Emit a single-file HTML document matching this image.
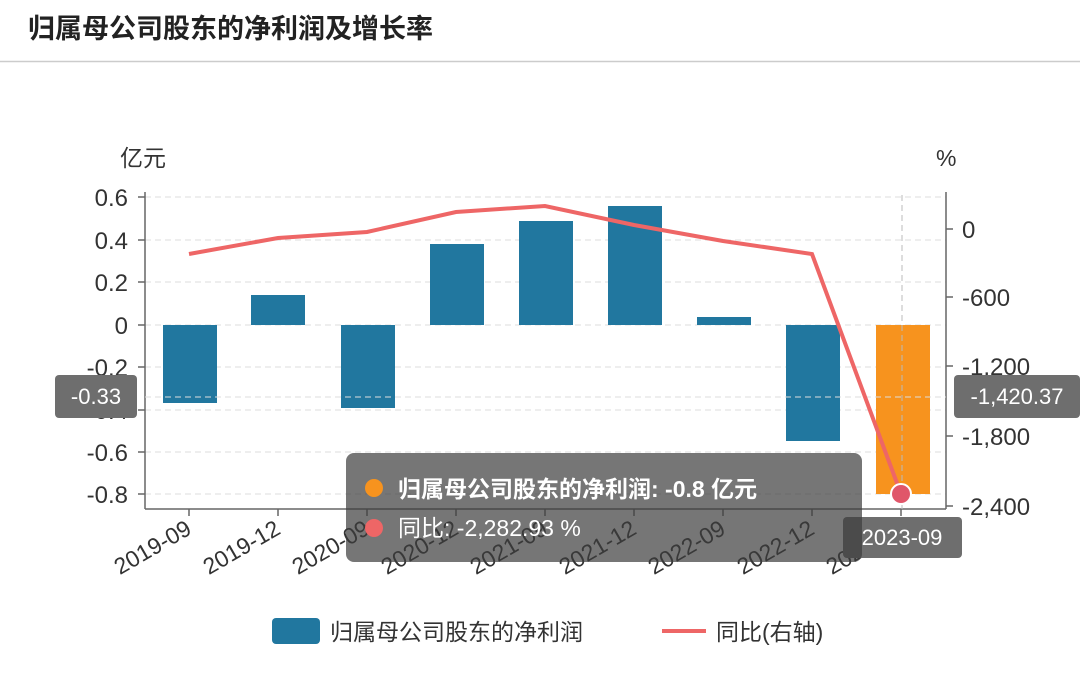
<!DOCTYPE html>
<html><head><meta charset="utf-8"><style>
body{margin:0;background:#fff;width:1080px;height:681px;overflow:hidden;font-family:"Liberation Sans","Noto Sans CJK SC",sans-serif;}
</style></head><body>
<svg width="1080" height="681" xmlns="http://www.w3.org/2000/svg" font-family="Liberation Sans, Noto Sans CJK SC, sans-serif">
<text x="28" y="38" font-size="27" font-weight="bold" fill="#222">归属母公司股东的净利润及增长率</text>
<line x1="0" y1="61.5" x2="1080" y2="61.5" stroke="#ccc" stroke-width="1.5"/>
<text x="120" y="166" font-size="23" fill="#333">亿元</text>
<text x="936" y="166" font-size="23" fill="#333">%</text>
<g stroke="#ddd" stroke-dasharray="6,4">
<line x1="145" x2="946" y1="197" y2="197"/><line x1="145" x2="946" y1="240" y2="240"/>
<line x1="145" x2="946" y1="282" y2="282"/><line x1="145" x2="946" y1="367" y2="367"/>
<line x1="145" x2="946" y1="410" y2="410"/><line x1="145" x2="946" y1="452" y2="452"/>
<line x1="145" x2="946" y1="494" y2="494"/><line x1="145" x2="946" y1="325" y2="325"/>
</g>
<g stroke="#666" stroke-width="1.5">
<line x1="145" y1="192" x2="145" y2="509"/><line x1="946" y1="192" x2="946" y2="509"/>
<line x1="145" y1="509" x2="946" y2="509"/>
<line x1="138" x2="145" y1="197" y2="197"/><line x1="138" x2="145" y1="240" y2="240"/><line x1="138" x2="145" y1="282" y2="282"/><line x1="138" x2="145" y1="325" y2="325"/><line x1="138" x2="145" y1="367" y2="367"/><line x1="138" x2="145" y1="410" y2="410"/><line x1="138" x2="145" y1="452" y2="452"/><line x1="138" x2="145" y1="494" y2="494"/>
<line x1="946" x2="953" y1="229" y2="229"/><line x1="946" x2="953" y1="297" y2="297"/><line x1="946" x2="953" y1="366" y2="366"/><line x1="946" x2="953" y1="436" y2="436"/><line x1="946" x2="953" y1="506" y2="506"/>
<line x1="189" x2="189" y1="509" y2="516"/><line x1="278" x2="278" y1="509" y2="516"/><line x1="367" x2="367" y1="509" y2="516"/><line x1="456" x2="456" y1="509" y2="516"/><line x1="545" x2="545" y1="509" y2="516"/><line x1="634" x2="634" y1="509" y2="516"/><line x1="723" x2="723" y1="509" y2="516"/><line x1="812" x2="812" y1="509" y2="516"/><line x1="901" x2="901" y1="509" y2="516"/>
</g>
<g font-size="24" fill="#333" text-anchor="end">
<text x="128" y="206">0.6</text><text x="128" y="249">0.4</text><text x="128" y="291">0.2</text><text x="128" y="334">0</text><text x="128" y="376">-0.2</text><text x="128" y="419">-0.4</text><text x="128" y="461">-0.6</text><text x="128" y="503">-0.8</text>
</g>
<g font-size="24" fill="#333">
<text x="962" y="238">0</text><text x="962" y="306">-600</text><text x="962" y="375">-1,200</text><text x="962" y="445">-1,800</text><text x="962" y="515">-2,400</text>
</g>
<g fill="#21779f">
<rect x="163" y="325" width="54" height="78"/><rect x="251" y="295" width="54" height="30"/><rect x="341" y="325" width="54" height="83"/>
<rect x="430" y="244" width="54" height="81"/><rect x="519" y="221" width="54" height="104"/><rect x="608" y="206" width="54" height="119"/>
<rect x="697" y="317" width="54" height="8"/><rect x="786" y="325" width="54" height="116"/>
</g>
<rect x="876" y="325" width="54" height="169" fill="#f7931e"/>
<line x1="902" y1="195" x2="902" y2="509" stroke="#bbb" stroke-dasharray="6,4"/>
<line x1="145" y1="397" x2="946" y2="397" stroke="#ddd" stroke-dasharray="6,4"/>
<polyline fill="none" stroke="#ee6666" stroke-width="4" points="189,254 278,238 367,232 456,212 545,206 634,225 723,241 812,254 901,494"/>
<circle cx="901" cy="494" r="10" fill="#e0566a" stroke="#fff" stroke-width="2"/>
<g font-size="23" fill="#333" text-anchor="end">
<text transform="translate(193,533) rotate(-30)">2019-09</text><text transform="translate(282,533) rotate(-30)">2019-12</text><text transform="translate(371,533) rotate(-30)">2020-09</text><text transform="translate(460,533) rotate(-30)">2020-12</text><text transform="translate(549,533) rotate(-30)">2021-09</text><text transform="translate(638,533) rotate(-30)">2021-12</text><text transform="translate(727,533) rotate(-30)">2022-09</text><text transform="translate(816,533) rotate(-30)">2022-12</text><text transform="translate(905,533) rotate(-30)">2023-09</text>
</g>
<rect x="55" y="375" width="82" height="43" rx="4" fill="#6e6e6e"/><text x="96" y="404" font-size="22" fill="#fff" text-anchor="middle">-0.33</text>
<rect x="954" y="375" width="126" height="43" rx="4" fill="#6e6e6e"/><text x="1017" y="404" font-size="22" fill="#fff" text-anchor="middle">-1,420.37</text>
<rect x="843" y="517" width="119" height="41" rx="4" fill="#6e6e6e"/><text x="902" y="545" font-size="22" fill="#fff" text-anchor="middle">2023-09</text>
<rect x="346" y="453" width="516" height="109" rx="8" fill="rgba(60,60,60,0.7)"/>
<circle cx="374" cy="488" r="9" fill="#f7931e"/>
<text x="398" y="497" font-size="23" font-weight="bold" fill="#fff">归属母公司股东的净利润: -0.8  亿元</text>
<circle cx="374" cy="528" r="9" fill="#ee6666"/>
<text x="398" y="536" font-size="23" fill="#fff">同比: -2,282.93  %</text>
<rect x="272" y="618" width="48" height="26" rx="4" fill="#21779f"/>
<text x="330" y="640" font-size="23" fill="#333">归属母公司股东的净利润</text>
<line x1="662" y1="631" x2="706" y2="631" stroke="#ee6666" stroke-width="4"/>
<text x="716" y="640" font-size="23" fill="#333">同比(右轴)</text>
</svg>
</body></html>
